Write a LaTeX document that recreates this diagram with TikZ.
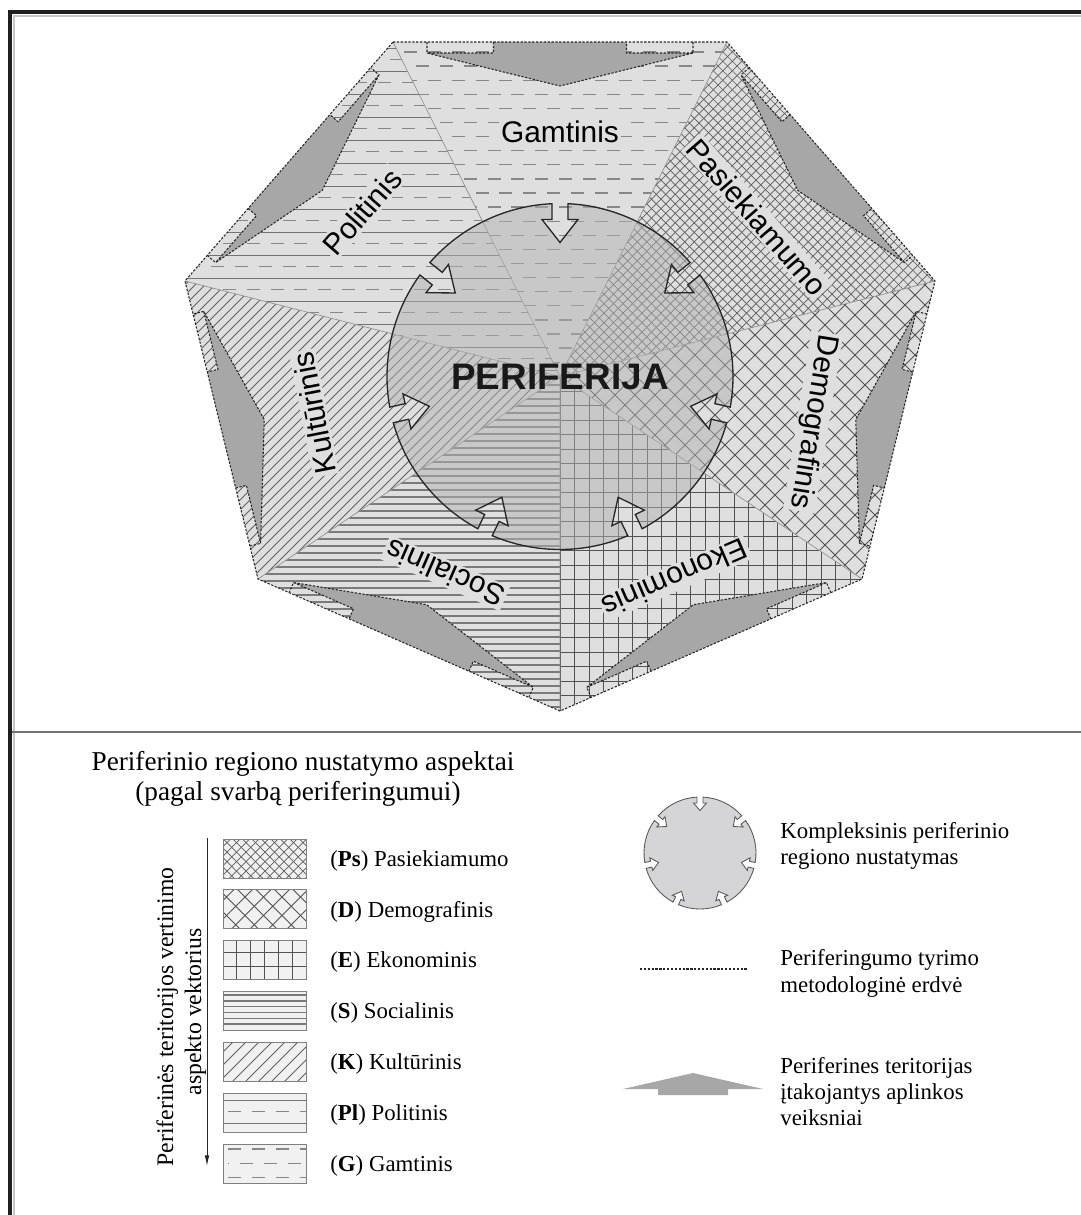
\documentclass[tikz,border=0pt]{standalone}
\usepackage{fontspec}
\setmainfont{Liberation Serif}
\newfontfamily\labfont{Liberation Sans}
\usetikzlibrary{calc,arrows.meta}
\definecolor{bgc}{gray}{0.875}
\definecolor{argray}{gray}{0.655}
\definecolor{lgc}{RGB}{213,213,216}
\definecolor{boxc}{gray}{0.945}

\newcommand\PatH[6]{\foreach \i [evaluate=\i as \yy using #3+\i*#5] in {0,...,#4} {\draw[#6] (#1,\yy) -- (#2,\yy);}}
\newcommand\PatV[6]{\foreach \i [evaluate=\i as \xx using #3+\i*#5] in {0,...,#4} {\draw[#6] (\xx,#1) -- (\xx,#2);}}
\newcommand\PatNE[6]{\foreach \i [evaluate=\i as \cc using #3+\i*#5] in {0,...,#4} {\draw[#6] (#1,{(\cc)-(#1)}) -- (#2,{(\cc)-(#2)});}}
\newcommand\PatNW[6]{\foreach \i [evaluate=\i as \cc using #3+\i*#5] in {0,...,#4} {\draw[#6] (#1,{(#1)+(\cc)}) -- (#2,{(#2)+(\cc)});}}
\newcommand\PatG[6]{\foreach \i [evaluate=\i as \yy using #3+\i*#5] in {0,...,#4} {\pgfmathsetmacro\ph{mod(\i,2)*#6}\draw[gdash, dash phase=\ph pt] (#1,\yy) -- (#2,\yy);}}

\newcommand\EPc[3]{\coordinate (#1) at ({\eAx+(#2)*\eux-(#3)*\euy},{\eAy+(#2)*\euy+(#3)*\eux});}
\newcommand\EdgeArrow[4]{%
 \pgfmathsetmacro\eAx{#1}\pgfmathsetmacro\eAy{#2}%
 \pgfmathsetmacro\eL{veclen((#3)-(#1),(#4)-(#2))}%
 \pgfmathsetmacro\eux{((#3)-(#1))/\eL}%
 \pgfmathsetmacro\euy{((#4)-(#2))/\eL}%
 \pgfmathsetmacro\ecA{\eL/2-(\eL-68)/4}%
 \pgfmathsetmacro\ecB{\eL/2+(\eL-68)/4}%
 \pgfmathsetmacro\eM{\eL/2}%
 \pgfmathsetmacro\eE{\eL-34}%
 \EPc{q1}{\ecA}{0}\EPc{q2}{\ecA}{11}\EPc{q3}{34}{11}\EPc{q4}{\eM}{44}%
 \EPc{q5}{\eE}{11}\EPc{q6}{\ecB}{11}\EPc{q7}{\ecB}{0}\EPc{q8}{34}{0}\EPc{q9}{\eE}{0}%
 \fill[argray] (q1)--(q2)--(q3)--(q4)--(q5)--(q6)--(q7)--cycle;
 \draw[dline] (q8)--(q3)--(q4)--(q5)--(q9) (q1)--(q2)--(q3) (q5)--(q6)--(q7);
}
\newcommand\NotchCircle[8]{%
 \pgfmathsetmacro\ncD{asin(#4/#3)}%
 \pgfmathsetmacro\ncA{#3-#5}%
 \pgfmathsetmacro\ncB{#3-#7}%
 \path[#8] ($(#1,#2)+(-90+\ncD:#3)$)
  \foreach \k [evaluate=\k as \pa using -90+\k*360/7, evaluate=\k as \qa using -90+(\k-1)*360/7] in {1,...,7} {
   arc[start angle=\qa+\ncD, end angle=\pa-\ncD, radius=#3]
   -- ($(#1,#2)+(\pa:\ncA)+(\pa-90:#4)$)
   -- ($(#1,#2)+(\pa:\ncA)+(\pa-90:#6)$)
   -- ($(#1,#2)+(\pa:\ncB)$)
   -- ($(#1,#2)+(\pa:\ncA)+(\pa+90:#6)$)
   -- ($(#1,#2)+(\pa:\ncA)+(\pa+90:#4)$)
   -- ($(#1,#2)+(\pa+\ncD:#3)$)
  } -- cycle;
}

\tikzset{
 gdash/.style={draw=black!47, line width=0.75pt, dash pattern=on 7.4pt off 6.2pt},
 pline/.style={draw=black!55, line width=0.55pt},
 kline/.style={draw=black!62, line width=0.45pt},
 sline/.style={draw=black!52, line width=0.8pt},
 eline/.style={draw=black!68, line width=0.5pt},
 dhl/.style={draw=black!68, line width=0.5pt},
 phl/.style={draw=black!64, line width=0.4pt},
 secline/.style={draw=black!42, line width=0.4pt},
 dline/.style={draw=black!85, line width=0.6pt, dash pattern=on 1.3pt off 0.9pt},
 lab/.style={font=\labfont\fontsize{17}{20}\selectfont, fill=bgc, inner sep=1.2pt},
 legtxt/.style={anchor=base west, font=\fontsize{13}{15}\selectfont, inner sep=0pt},
 legbox/.style={fill=boxc, draw=black!50, line width=0.5pt}
}

\begin{document}
\begin{tikzpicture}[x=0.02cm,y=-0.02cm]
\useasboundingbox (0,0) rectangle (1080,1215);
\fill[white] (0,0) rectangle (1080,1215);

% frame and separator
\draw[line width=2.3pt, black!88] (10,1220) -- (10,12) -- (1085,12);
\draw[line width=0.6pt, black!22] (14,1220) -- (14,16) -- (1085,16);
\draw[line width=0.8pt, black!55] (12,732) -- (1085,732);

% heptagon
\coordinate (C0) at (560,376.5);
\coordinate (T1) at (393,42);
\coordinate (T2) at (727,42);
\coordinate (R) at (935,281);
\coordinate (LR) at (862,579);
\coordinate (B) at (560,711);
\coordinate (LL) at (258,579);
\coordinate (L) at (185,281);

\fill[bgc] (T1)--(T2)--(R)--(LR)--(B)--(LL)--(L)--cycle;

% Gamtinis
\begin{scope}
\clip (C0)--(T1)--(T2)--cycle;
\PatG{380}{745}{52}{24}{14.1}{6.8}
\end{scope}
% Politinis
\begin{scope}
\clip (C0)--(L)--(T1)--cycle;
\PatH{175}{570}{48}{15}{23}{pline}
\PatG{175}{570}{59.5}{15}{23}{6.8}
\end{scope}
% Kulturinis
\begin{scope}
\clip (C0)--(LL)--(L)--cycle;
\PatNE{170}{570}{460}{70}{10}{kline}
\end{scope}
% Socialinis
\begin{scope}
\clip (C0)--(B)--(LL)--cycle;
\PatH{250}{570}{378}{48}{7}{sline}
\end{scope}
% Ekonominis
\begin{scope}
\clip (C0)--(LR)--(B)--cycle;
\PatV{370}{720}{560}{21}{14.5}{eline}
\PatH{555}{870}{376.5}{23}{14.5}{eline}
\end{scope}
% Demografinis
\begin{scope}
\clip (C0)--(R)--(LR)--cycle;
\PatNE{550}{945}{930}{26}{20}{dhl}
\PatNW{550}{945}{-660}{24}{20}{dhl}
\end{scope}
% Pasiekiamumo
\begin{scope}
\clip (C0)--(T2)--(R)--cycle;
\PatNE{550}{945}{765}{48}{9.5}{phl}
\PatNW{550}{945}{-690}{54}{9.5}{phl}
\end{scope}

\draw[secline] (C0)--(T1) (C0)--(T2) (C0)--(R) (C0)--(LR) (C0)--(B) (C0)--(LL) (C0)--(L);

% environment arrows
\EdgeArrow{393}{42}{727}{42}
\EdgeArrow{727}{42}{935}{281}
\EdgeArrow{935}{281}{862}{579}
\EdgeArrow{862}{579}{560}{711}
\EdgeArrow{560}{711}{258}{579}
\EdgeArrow{258}{579}{185}{281}
\EdgeArrow{185}{281}{393}{42}

\draw[dline] (T1)--(T2)--(R)--(LR)--(B)--(LL)--(L)--cycle;

% central circle
\NotchCircle{560}{376.5}{173}{8}{16}{18}{39}{fill=black!30, fill opacity=0.5, draw=black!85, line width=0.75pt}

% labels
\node[lab] (gam) at (560,132) {Gamtinis};
\node[lab, rotate=-49] (pas) at (757,217) {Pasiekiamumo};
\node[lab, rotate=-99] (dem) at (813,422) {Demografinis};
\node[lab, rotate=-156.5] (eko) at (675,578) {Ekonominis};
\node[lab, rotate=156.5] (soc) at (445,573) {Socialinis};
\node[lab, rotate=101] (kul) at (314,413) {Kultūrinis};
\node[lab, rotate=49] (pol) at (362,212) {Politinis};
\node[font=\labfont\bfseries\fontsize{21}{24}\selectfont, text=black!90] (per) at (560,377) {PERIFERIJA};

% ===== legend =====
\node[anchor=base, font=\fontsize{15.5}{18}\selectfont, inner sep=0pt] (tit1) at (303,770) {Periferinio regiono nustatymo aspektai};
\node[anchor=base, font=\fontsize{15.5}{18}\selectfont, inner sep=0pt] (tit2) at (298,800) {(pagal svarbą periferingumui)};

\coordinate (va) at (207,838);
\coordinate (vb) at (207,1166);
\draw[-{Latex[length=6pt,width=2.6pt]}, line width=0.55pt, black!85] (va) -- (vb);
\node[anchor=base, rotate=90, font=\fontsize{13.5}{16}\selectfont, inner sep=0pt] (vt1) at (173,1017) {Periferinės teritorijos vertinimo};
\node[anchor=base, rotate=90, font=\fontsize{13.5}{16}\selectfont, inner sep=0pt] (vt2) at (201,1012) {aspekto vektorius};

% boxes
\fill[boxc] (223,839) rectangle (306,878);
\begin{scope}\clip (223,839) rectangle (306,878);
\PatNE{220}{310}{1060}{14}{9.5}{phl}
\PatNW{220}{310}{530}{14}{9.5}{phl}
\end{scope}
\draw[legbox, fill=none] (223,839) rectangle (306,878);

\fill[boxc] (223,889.5) rectangle (306,928.5);
\begin{scope}\clip (223,889.5) rectangle (306,928.5);
\PatNE{220}{310}{1105}{8}{18.5}{dhl}
\PatNW{220}{310}{578}{8}{18.5}{dhl}
\end{scope}
\draw[legbox, fill=none] (223,889.5) rectangle (306,928.5);

\fill[boxc] (223,940) rectangle (306,979);
\begin{scope}\clip (223,940) rectangle (306,979);
\PatV{940}{979}{236}{4}{14.2}{eline}
\PatH{223}{306}{952.5}{1}{13.5}{eline}
\end{scope}
\draw[legbox, fill=none] (223,940) rectangle (306,979);

\fill[boxc] (223,991) rectangle (306,1030);
\begin{scope}\clip (223,991) rectangle (306,1030);
\PatH{223}{306}{995}{5}{5.8}{sline}
\end{scope}
\draw[legbox, fill=none] (223,991) rectangle (306,1030);

\fill[boxc] (223,1042) rectangle (306,1081);
\begin{scope}\clip (223,1042) rectangle (306,1081);
\PatNE{220}{310}{1262}{10}{13}{kline}
\end{scope}
\draw[legbox, fill=none] (223,1042) rectangle (306,1081);

\fill[boxc] (223,1093) rectangle (306,1132);
\begin{scope}\clip (223,1093) rectangle (306,1132);
\PatH{223}{306}{1100}{1}{23}{pline}
\PatG{228}{306}{1111.5}{0}{23}{6.8}
\end{scope}
\draw[legbox, fill=none] (223,1093) rectangle (306,1132);

\fill[boxc] (223,1144) rectangle (306,1183);
\begin{scope}\clip (223,1144) rectangle (306,1183);
\PatG{228}{306}{1149}{2}{14.2}{6.8}
\end{scope}
\draw[legbox, fill=none] (223,1144) rectangle (306,1183);

\node[legtxt] (lps) at (330,866.5) {(\textbf{Ps}) Pasiekiamumo};
\node[legtxt] (ld) at (330,917) {(\textbf{D}) Demografinis};
\node[legtxt] (le) at (330,967.5) {(\textbf{E}) Ekonominis};
\node[legtxt] (ls) at (330,1018.5) {(\textbf{S}) Socialinis};
\node[legtxt] (lk) at (330,1069.5) {(\textbf{K}) Kultūrinis};
\node[legtxt] (lpl) at (330,1120.5) {(\textbf{Pl}) Politinis};
\node[legtxt] (lg) at (330,1171.5) {(\textbf{G}) Gamtinis};

% right legend
\NotchCircle{700}{853}{56}{3}{6}{6.5}{13.5}{fill=lgc, draw=black!65, line width=0.5pt}
\node[legtxt] (r1a) at (780,838) {Kompleksinis periferinio};
\node[legtxt] (r1b) at (780,864) {regiono nustatymas};

\coordinate (da) at (640,969);
\coordinate (db) at (748,969);
\draw[dline] (da) -- (db);
\node[legtxt] (r2a) at (780,965) {Periferingumo tyrimo};
\node[legtxt] (r2b) at (780,992) {metodologinė erdvė};

\fill[argray] (623,1089) -- (693,1073) -- (763,1089) -- (728,1089) -- (728,1095) -- (658,1095) -- (658,1089) -- cycle;
\node[legtxt] (r3a) at (780,1073) {Periferines teritorijas};
\node[legtxt] (r3b) at (780,1099) {įtakojantys aplinkos};
\node[legtxt] (r3c) at (780,1125) {veiksniai};
\end{tikzpicture}
\end{document}
